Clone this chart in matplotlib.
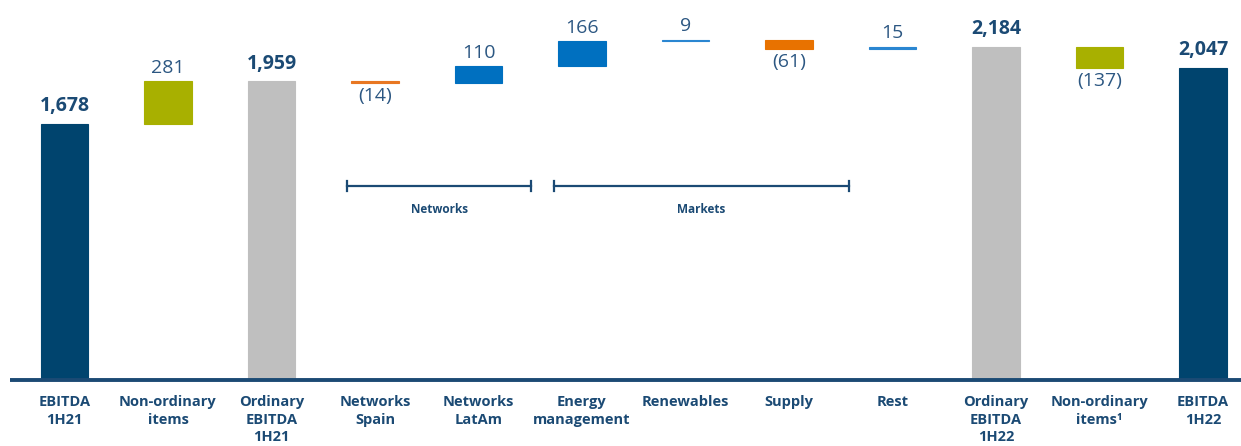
import matplotlib.pyplot as plt

plt.rcParams['font.family'] = ['Open Sans', 'DejaVu Sans']

# EBITDA bridge, 1H21 -> 1H22 (EUR m)
categories = ['EBITDA\n1H21', 'Non-ordinary\nitems', 'Ordinary\nEBITDA\n1H21',
              'Networks\nSpain', 'Networks\nLatAm', 'Energy\nmanagement',
              'Renewables', 'Supply', 'Rest', 'Ordinary\nEBITDA\n1H22',
              'Non-ordinary\nitems¹', 'EBITDA\n1H22']
# 'total' bars start at zero, 'delta' bars float on the running total
kinds = ['total', 'delta', 'total', 'delta', 'delta', 'delta',
         'delta', 'delta', 'delta', 'total', 'delta', 'total']
values = [1678, 281, 1959, -14, 110, 166, 9, -61, 15, 2184, -137, 2047]
labels = ['1,678', '281', '1,959', '(14)', '110', '166', '9', '(61)', '15',
          '2,184', '(137)', '2,047']
colors = ['#00446e', '#a8b000', '#bfbfbf', '#e87722', '#0070c0', '#0070c0',
          '#2a86d1', '#e87200', '#2a86d1', '#bfbfbf', '#a8b000', '#00446e']

groups = ['Networks', 'Markets']
group_spans = [(2.73, 4.51), (4.73, 7.58)]

navy = '#1b4a74'
label_blue = '#2c5782'

fig = plt.figure(figsize=(12.41, 4.46), dpi=100)
ax = fig.add_axes([0, 66 / 446, 1, 380 / 446])

running = 0
for i, (kind, v) in enumerate(zip(kinds, values)):
    if kind == 'total':
        bottom, height = 0, v
        running = v
    else:
        bottom, height = running, v
        running += v
    ax.bar(i, height, bottom=bottom, width=0.455, color=colors[i],
           edgecolor=colors[i], linewidth=0.8)
    top = max(bottom, bottom + height)
    low = min(bottom, bottom + height)
    if kind == 'total':
        ax.annotate(labels[i], (i, top), xytext=(0, 9), textcoords='offset points',
                    ha='center', va='baseline', fontsize=14, fontweight='bold',
                    color=navy)
    elif v >= 0:
        ax.annotate(labels[i], (i, top), xytext=(0, 6), textcoords='offset points',
                    ha='center', va='baseline', fontsize=14, color=label_blue)
    else:
        ax.annotate(labels[i], (i, low), xytext=(0, -3), textcoords='offset points',
                    ha='center', va='top', fontsize=14, color=label_blue)

# segment brackets
for name, (x0, x1) in zip(groups, group_spans):
    ax.plot([x0, x1], [1271, 1271], color=navy, lw=1.6)
    for xe in (x0, x1):
        ax.plot([xe, xe], [1240, 1302], color=navy, lw=1.6)
    ax.text((x0 + x1) / 2, 1120, name, ha='center', va='center', fontsize=8.5,
            fontweight='bold', color=navy)

# baseline
ax.plot([-0.53, 11.4], [0, 0], color='#1b4a74', lw=2.8, solid_capstyle='butt',
        clip_on=False, zorder=5)

ax.set_xlim(-0.623, 11.367)
ax.set_ylim(0, 2490)
ax.set_xticks(range(len(categories)))
ax.set_xticklabels(categories, fontsize=10.5, fontweight='bold', color=navy,
                   linespacing=1.3, va='top')
ax.tick_params(axis='x', length=0, pad=11)
ax.set_yticks([])
for s in ax.spines.values():
    s.set_visible(False)

fig.savefig('out.png', dpi=100, facecolor='white')
